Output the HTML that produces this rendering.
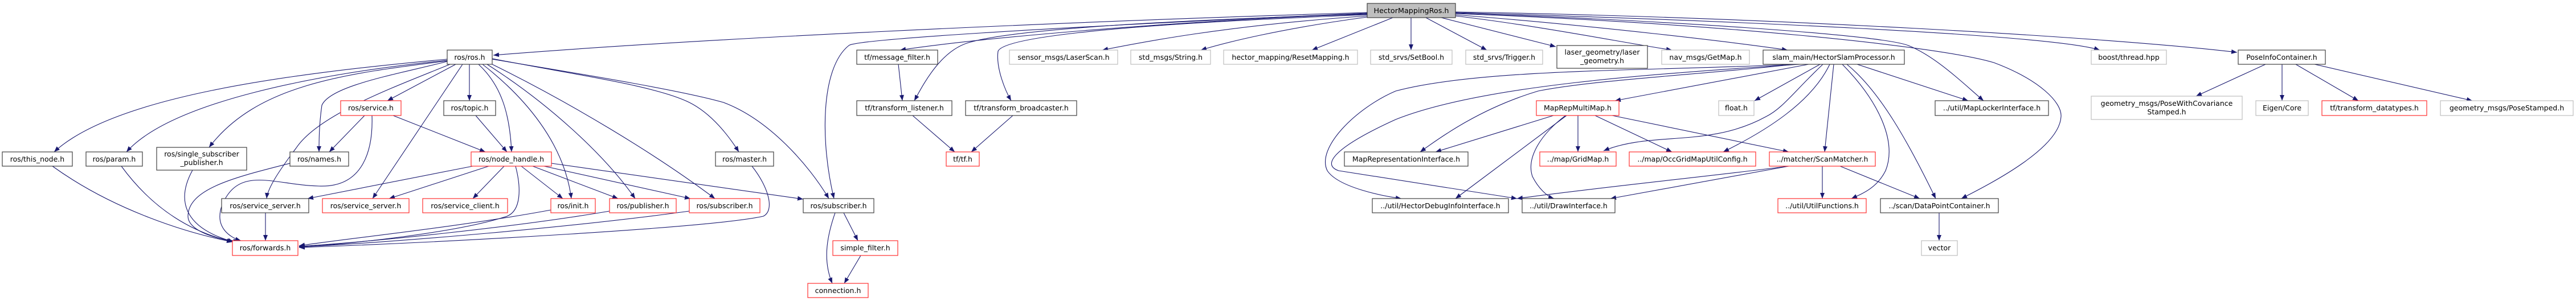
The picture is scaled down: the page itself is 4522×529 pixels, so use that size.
<!DOCTYPE html>
<html><head><meta charset="utf-8"><style>
html,body{margin:0;padding:0;background:#fff}
svg{display:block}
text{font-family:"DejaVu Sans","Liberation Sans",sans-serif;font-size:12.5px;fill:#000}
.b{fill:#fff;stroke:#404040;stroke-width:1.2}
.r{fill:#fff;stroke:#ff3030;stroke-width:1.2}
.g{fill:#fff;stroke:#bfbfbf;stroke-width:1.2}
.e{fill:none;stroke:#191970;stroke-width:1.1}
</style></head><body>
<svg width="4522" height="529" viewBox="0 0 4522 529" xmlns="http://www.w3.org/2000/svg">
<defs><marker id="a" markerWidth="11" markerHeight="8" refX="10" refY="4" orient="auto" markerUnits="userSpaceOnUse"><path d="M0,0 L10,4 L0,8 z" fill="#191970"/></marker></defs>
<g marker-end="url(#a)">
<!-- root edges -->
<path class="e" d="M2400,22 C1800,40 1200,70 866,97"/>
<path class="e" d="M2400,24 C2000,40 1700,70 1580,88"/>
<path class="e" d="M2400,25 C1900,40 1750,60 1700,75 C1650,90 1620,150 1605,177"/>
<path class="e" d="M2400,26 C1900,45 1760,70 1752,90 C1748,120 1765,160 1775,177"/>
<path class="e" d="M2400,23 C1800,50 1500,70 1490,80 C1440,120 1440,250 1464,349"/>
<path class="e" d="M2400,28 C2150,45 2000,75 1935,88"/>
<path class="e" d="M2400,30 C2250,50 2150,75 2108,88"/>
<path class="e" d="M2445,31 L2303,88"/>
<path class="e" d="M2477,31 L2477,88"/>
<path class="e" d="M2503,31 L2610,88"/>
<path class="e" d="M2530,31 L2731,82"/>
<path class="e" d="M2555,28 C2700,45 2850,75 2935,88"/>
<path class="e" d="M2555,26 C2800,45 3050,75 3138,88"/>
<path class="e" d="M2555,23 C2900,35 3300,60 3350,80 C3400,100 3450,150 3482,177"/>
<path class="e" d="M2555,24 C3000,40 3400,80 3500,110 C3580,140 3620,180 3618,205 C3615,260 3500,320 3443,349"/>
<path class="e" d="M2555,22 C3000,35 3600,60 3686,88"/>
<path class="e" d="M2555,21 C3100,30 3700,65 3927,92"/>
<!-- ros.h edges -->
<path class="e" d="M785,104 C500,130 200,170 95,267"/>
<path class="e" d="M785,106 C550,130 300,180 222,267"/>
<path class="e" d="M785,107 C600,130 450,150 367,259"/>
<path class="e" d="M785,108 C700,130 580,150 565,185 C560,220 560,250 560,267"/>
<path class="e" d="M800,113 L680,177"/>
<path class="e" d="M790,113 C700,150 560,200 520,260 C490,300 470,330 468,349"/>
<path class="e" d="M812,113 L654,349"/>
<path class="e" d="M824,113 L824,177"/>
<path class="e" d="M840,113 C880,150 895,200 898,267"/>
<path class="e" d="M847,113 C920,170 990,250 1003,349"/>
<path class="e" d="M855,113 C960,180 1060,270 1115,349"/>
<path class="e" d="M864,113 C1000,180 1150,270 1255,349"/>
<path class="e" d="M864,103 C1000,130 1150,150 1210,180 C1250,200 1280,240 1297,267"/>
<path class="e" d="M864,104 C1050,135 1200,160 1270,180 C1350,210 1420,290 1455,349"/>
<!-- service.h -->
<path class="e" d="M640,203 L578,267"/>
<path class="e" d="M690,203 L852,267"/>
<path class="e" d="M653,203 C655,260 640,330 560,327 C480,325 420,290 390,360 C375,400 405,418 423,423"/>
<path class="e" d="M835,203 L890,267"/>
<!-- node_handle -->
<path class="e" d="M830,292 L540,349"/>
<path class="e" d="M858,292 L683,349"/>
<path class="e" d="M885,292 L830,349"/>
<path class="e" d="M915,292 L988,349"/>
<path class="e" d="M935,292 L1085,349"/>
<path class="e" d="M955,292 L1212,349"/>
<path class="e" d="M968,287 L1410,350"/>
<path class="e" d="M905,292 C915,330 915,370 890,380 C800,410 600,430 525,434"/>
<!-- to forwards -->
<path class="e" d="M509,287 C420,310 330,330 330,380 C330,410 400,425 420,423"/>
<path class="e" d="M92,292 C200,370 330,410 408,425"/>
<path class="e" d="M213,292 C270,370 340,410 410,425"/>
<path class="e" d="M338,299 C310,350 320,400 410,425"/>
<path class="e" d="M466,374 L466,423"/>
<path class="e" d="M967,369 C800,400 600,420 525,432"/>
<path class="e" d="M1070,371 C900,400 650,425 525,433"/>
<path class="e" d="M1210,371 C1000,400 700,425 525,434"/>
<path class="e" d="M1320,292 C1350,330 1360,370 1340,380 C1250,400 800,425 525,435"/>
<!-- subscriber -->
<path class="e" d="M1481,374 L1506,423"/>
<path class="e" d="M1466,374 C1450,420 1445,460 1461,498"/>
<path class="e" d="M1511,449 L1482,498"/>
<!-- tf -->
<path class="e" d="M1577,113 L1584,177"/>
<path class="e" d="M1602,203 L1676,267"/>
<path class="e" d="M1778,203 L1705,267"/>
<!-- HectorSlamProcessor -->
<path class="e" d="M3150,113 C3000,130 2800,140 2700,160 C2600,190 2530,240 2493,267"/>
<path class="e" d="M3150,113 C2900,125 2600,120 2450,160 C2380,190 2310,260 2330,300 C2350,330 2430,345 2460,349"/>
<path class="e" d="M3160,113 C2900,130 2600,150 2450,210 C2340,260 2320,290 2350,300 L2663,349"/>
<path class="e" d="M3175,113 L2835,177"/>
<path class="e" d="M3195,113 L3080,177"/>
<path class="e" d="M3200,113 C3150,160 3130,190 3100,205 C3000,260 2900,230 2815,265"/>
<path class="e" d="M3212,113 C3180,180 3100,230 3025,267"/>
<path class="e" d="M3219,113 L3203,267"/>
<path class="e" d="M3234,113 C3300,180 3330,250 3310,300 C3295,330 3270,340 3250,349"/>
<path class="e" d="M3242,113 C3300,160 3350,250 3398,349"/>
<path class="e" d="M3260,113 L3455,177"/>
<!-- MapRepMultiMap -->
<path class="e" d="M2727,203 L2520,267"/>
<path class="e" d="M2750,203 L2555,349"/>
<path class="e" d="M2748,203 C2700,240 2680,280 2690,310 C2700,330 2715,345 2728,349"/>
<path class="e" d="M2770,203 L2770,267"/>
<path class="e" d="M2800,203 L2935,267"/>
<path class="e" d="M2830,203 L3140,267"/>
<!-- ScanMatcher -->
<path class="e" d="M3140,292 C3000,310 2800,330 2663,349"/>
<path class="e" d="M3140,292 L2827,349"/>
<path class="e" d="M3199,292 L3199,349"/>
<path class="e" d="M3230,292 L3370,349"/>
<path class="e" d="M3404,374 L3404,423"/>
<!-- PoseInfo -->
<path class="e" d="M3977,113 L3855,169"/>
<path class="e" d="M4006,113 L4006,177"/>
<path class="e" d="M4030,113 L4140,177"/>
<path class="e" d="M4063,113 L4340,177"/>
</g>
<!-- nodes -->
<rect x="2400" y="6" width="155" height="25" fill="#bfbfbf" stroke="#404040" stroke-width="1.2"/>
<text x="2477.5" y="23" text-anchor="middle" textLength="132" lengthAdjust="spacingAndGlyphs">HectorMappingRos.h</text>

<rect class="b" x="785" y="88" width="79" height="25"/><text x="824.5" y="105" text-anchor="middle">ros/ros.h</text>
<rect class="b" x="1504" y="88" width="142" height="25"/><text x="1575" y="105" text-anchor="middle">tf/message_filter.h</text>
<rect class="g" x="1772" y="88" width="190" height="25"/><text x="1867" y="105" text-anchor="middle">sensor_msgs/LaserScan.h</text>
<rect class="g" x="1985" y="88" width="140" height="25"/><text x="2055" y="105" text-anchor="middle">std_msgs/String.h</text>
<rect class="g" x="2148" y="88" width="235" height="25"/><text x="2265.5" y="105" text-anchor="middle">hector_mapping/ResetMapping.h</text>
<rect class="g" x="2406" y="88" width="143" height="25"/><text x="2477.5" y="105" text-anchor="middle">std_srvs/SetBool.h</text>
<rect class="g" x="2573" y="88" width="135" height="25"/><text x="2640.5" y="105" text-anchor="middle">std_srvs/Trigger.h</text>
<rect class="b" x="2733" y="80" width="159" height="40"/><text x="2812.5" y="96" text-anchor="middle">laser_geometry/laser</text><text x="2812.5" y="111" text-anchor="middle">_geometry.h</text>
<rect class="g" x="2917" y="88" width="154" height="25"/><text x="2994" y="105" text-anchor="middle">nav_msgs/GetMap.h</text>
<rect class="b" x="3095" y="88" width="248" height="25"/><text x="3219" y="105" text-anchor="middle">slam_main/HectorSlamProcessor.h</text>
<rect class="g" x="3671" y="88" width="132" height="25"/><text x="3737" y="105" text-anchor="middle">boost/thread.hpp</text>
<rect class="b" x="3929" y="88" width="153" height="25"/><text x="4005.5" y="105" text-anchor="middle">PoseInfoContainer.h</text>

<rect class="r" x="598" y="177" width="106" height="26"/><text x="651" y="194" text-anchor="middle">ros/service.h</text>
<rect class="b" x="779" y="177" width="91" height="26"/><text x="824.5" y="194" text-anchor="middle">ros/topic.h</text>
<rect class="b" x="1504" y="177" width="167" height="26"/><text x="1587.5" y="194" text-anchor="middle">tf/transform_listener.h</text>
<rect class="b" x="1695" y="177" width="195" height="26"/><text x="1792.5" y="194" text-anchor="middle">tf/transform_broadcaster.h</text>
<rect class="r" x="2697" y="177" width="145" height="26"/><text x="2769.5" y="194" text-anchor="middle">MapRepMultiMap.h</text>
<rect class="g" x="3017" y="177" width="62" height="26"/><text x="3048" y="194" text-anchor="middle">float.h</text>
<rect class="b" x="3397" y="177" width="199" height="26"/><text x="3496.5" y="194" text-anchor="middle">../util/MapLockerInterface.h</text>
<rect class="g" x="3671" y="169" width="265" height="41"/><text x="3803.5" y="186" text-anchor="middle">geometry_msgs/PoseWithCovariance</text><text x="3803.5" y="201" text-anchor="middle">Stamped.h</text>
<rect class="g" x="3960" y="177" width="92" height="26"/><text x="4006" y="194" text-anchor="middle">Eigen/Core</text>
<rect class="r" x="4076" y="177" width="184" height="26"/><text x="4168" y="194" text-anchor="middle">tf/transform_datatypes.h</text>
<rect class="g" x="4284" y="177" width="233" height="26"/><text x="4400.5" y="194" text-anchor="middle">geometry_msgs/PoseStamped.h</text>

<rect class="b" x="4" y="267" width="123" height="25"/><text x="65.5" y="284" text-anchor="middle">ros/this_node.h</text>
<rect class="b" x="151" y="267" width="99" height="25"/><text x="200.5" y="284" text-anchor="middle">ros/param.h</text>
<rect class="b" x="275" y="259" width="158" height="40"/><text x="354" y="275" text-anchor="middle">ros/single_subscriber</text><text x="354" y="290" text-anchor="middle">_publisher.h</text>
<rect class="b" x="509" y="267" width="103" height="25"/><text x="560.5" y="284" text-anchor="middle">ros/names.h</text>
<rect class="r" x="827" y="267" width="141" height="25"/><text x="897.5" y="284" text-anchor="middle">ros/node_handle.h</text>
<rect class="b" x="1256" y="267" width="102" height="25"/><text x="1307" y="284" text-anchor="middle">ros/master.h</text>
<rect class="r" x="1661" y="267" width="58" height="25"/><text x="1690" y="284" text-anchor="middle">tf/tf.h</text>
<rect class="b" x="2360" y="267" width="217" height="25"/><text x="2468.5" y="284" text-anchor="middle">MapRepresentationInterface.h</text>
<rect class="r" x="2703" y="267" width="134" height="25"/><text x="2770" y="284" text-anchor="middle">../map/GridMap.h</text>
<rect class="r" x="2860" y="267" width="222" height="25"/><text x="2971" y="284" text-anchor="middle">../map/OccGridMapUtilConfig.h</text>
<rect class="r" x="3106" y="267" width="186" height="25"/><text x="3199" y="284" text-anchor="middle">../matcher/ScanMatcher.h</text>

<rect class="b" x="389" y="349" width="153" height="25"/><text x="465.5" y="366" text-anchor="middle">ros/service_server.h</text>
<rect class="r" x="566" y="349" width="152" height="25"/><text x="642" y="366" text-anchor="middle">ros/service_server.h</text>
<rect class="r" x="742" y="349" width="149" height="25"/><text x="816.5" y="366" text-anchor="middle">ros/service_client.h</text>
<rect class="r" x="967" y="349" width="78" height="25"/><text x="1006" y="366" text-anchor="middle">ros/init.h</text>
<rect class="r" x="1070" y="349" width="117" height="25"/><text x="1128.5" y="366" text-anchor="middle">ros/publisher.h</text>
<rect class="r" x="1210" y="349" width="124" height="25"/><text x="1272" y="366" text-anchor="middle">ros/subscriber.h</text>
<rect class="b" x="1410" y="349" width="124" height="25"/><text x="1472" y="366" text-anchor="middle">ros/subscriber.h</text>
<rect class="b" x="2409" y="349" width="239" height="25"/><text x="2528.5" y="366" text-anchor="middle">../util/HectorDebugInfoInterface.h</text>
<rect class="b" x="2672" y="349" width="163" height="25"/><text x="2753.5" y="366" text-anchor="middle">../util/DrawInterface.h</text>
<rect class="r" x="3121" y="349" width="155" height="25"/><text x="3198.5" y="366" text-anchor="middle">../util/UtilFunctions.h</text>
<rect class="b" x="3301" y="349" width="207" height="25"/><text x="3404.5" y="366" text-anchor="middle">../scan/DataPointContainer.h</text>

<rect class="r" x="408" y="423" width="115" height="26"/><text x="465.5" y="440" text-anchor="middle">ros/forwards.h</text>
<rect class="r" x="1462" y="423" width="114" height="26"/><text x="1519" y="440" text-anchor="middle">simple_filter.h</text>
<rect class="g" x="3373" y="423" width="63" height="26"/><text x="3404.5" y="440" text-anchor="middle">vector</text>
<rect class="r" x="1418" y="498" width="106" height="25"/><text x="1471" y="515" text-anchor="middle">connection.h</text>
</svg>
</body></html>
